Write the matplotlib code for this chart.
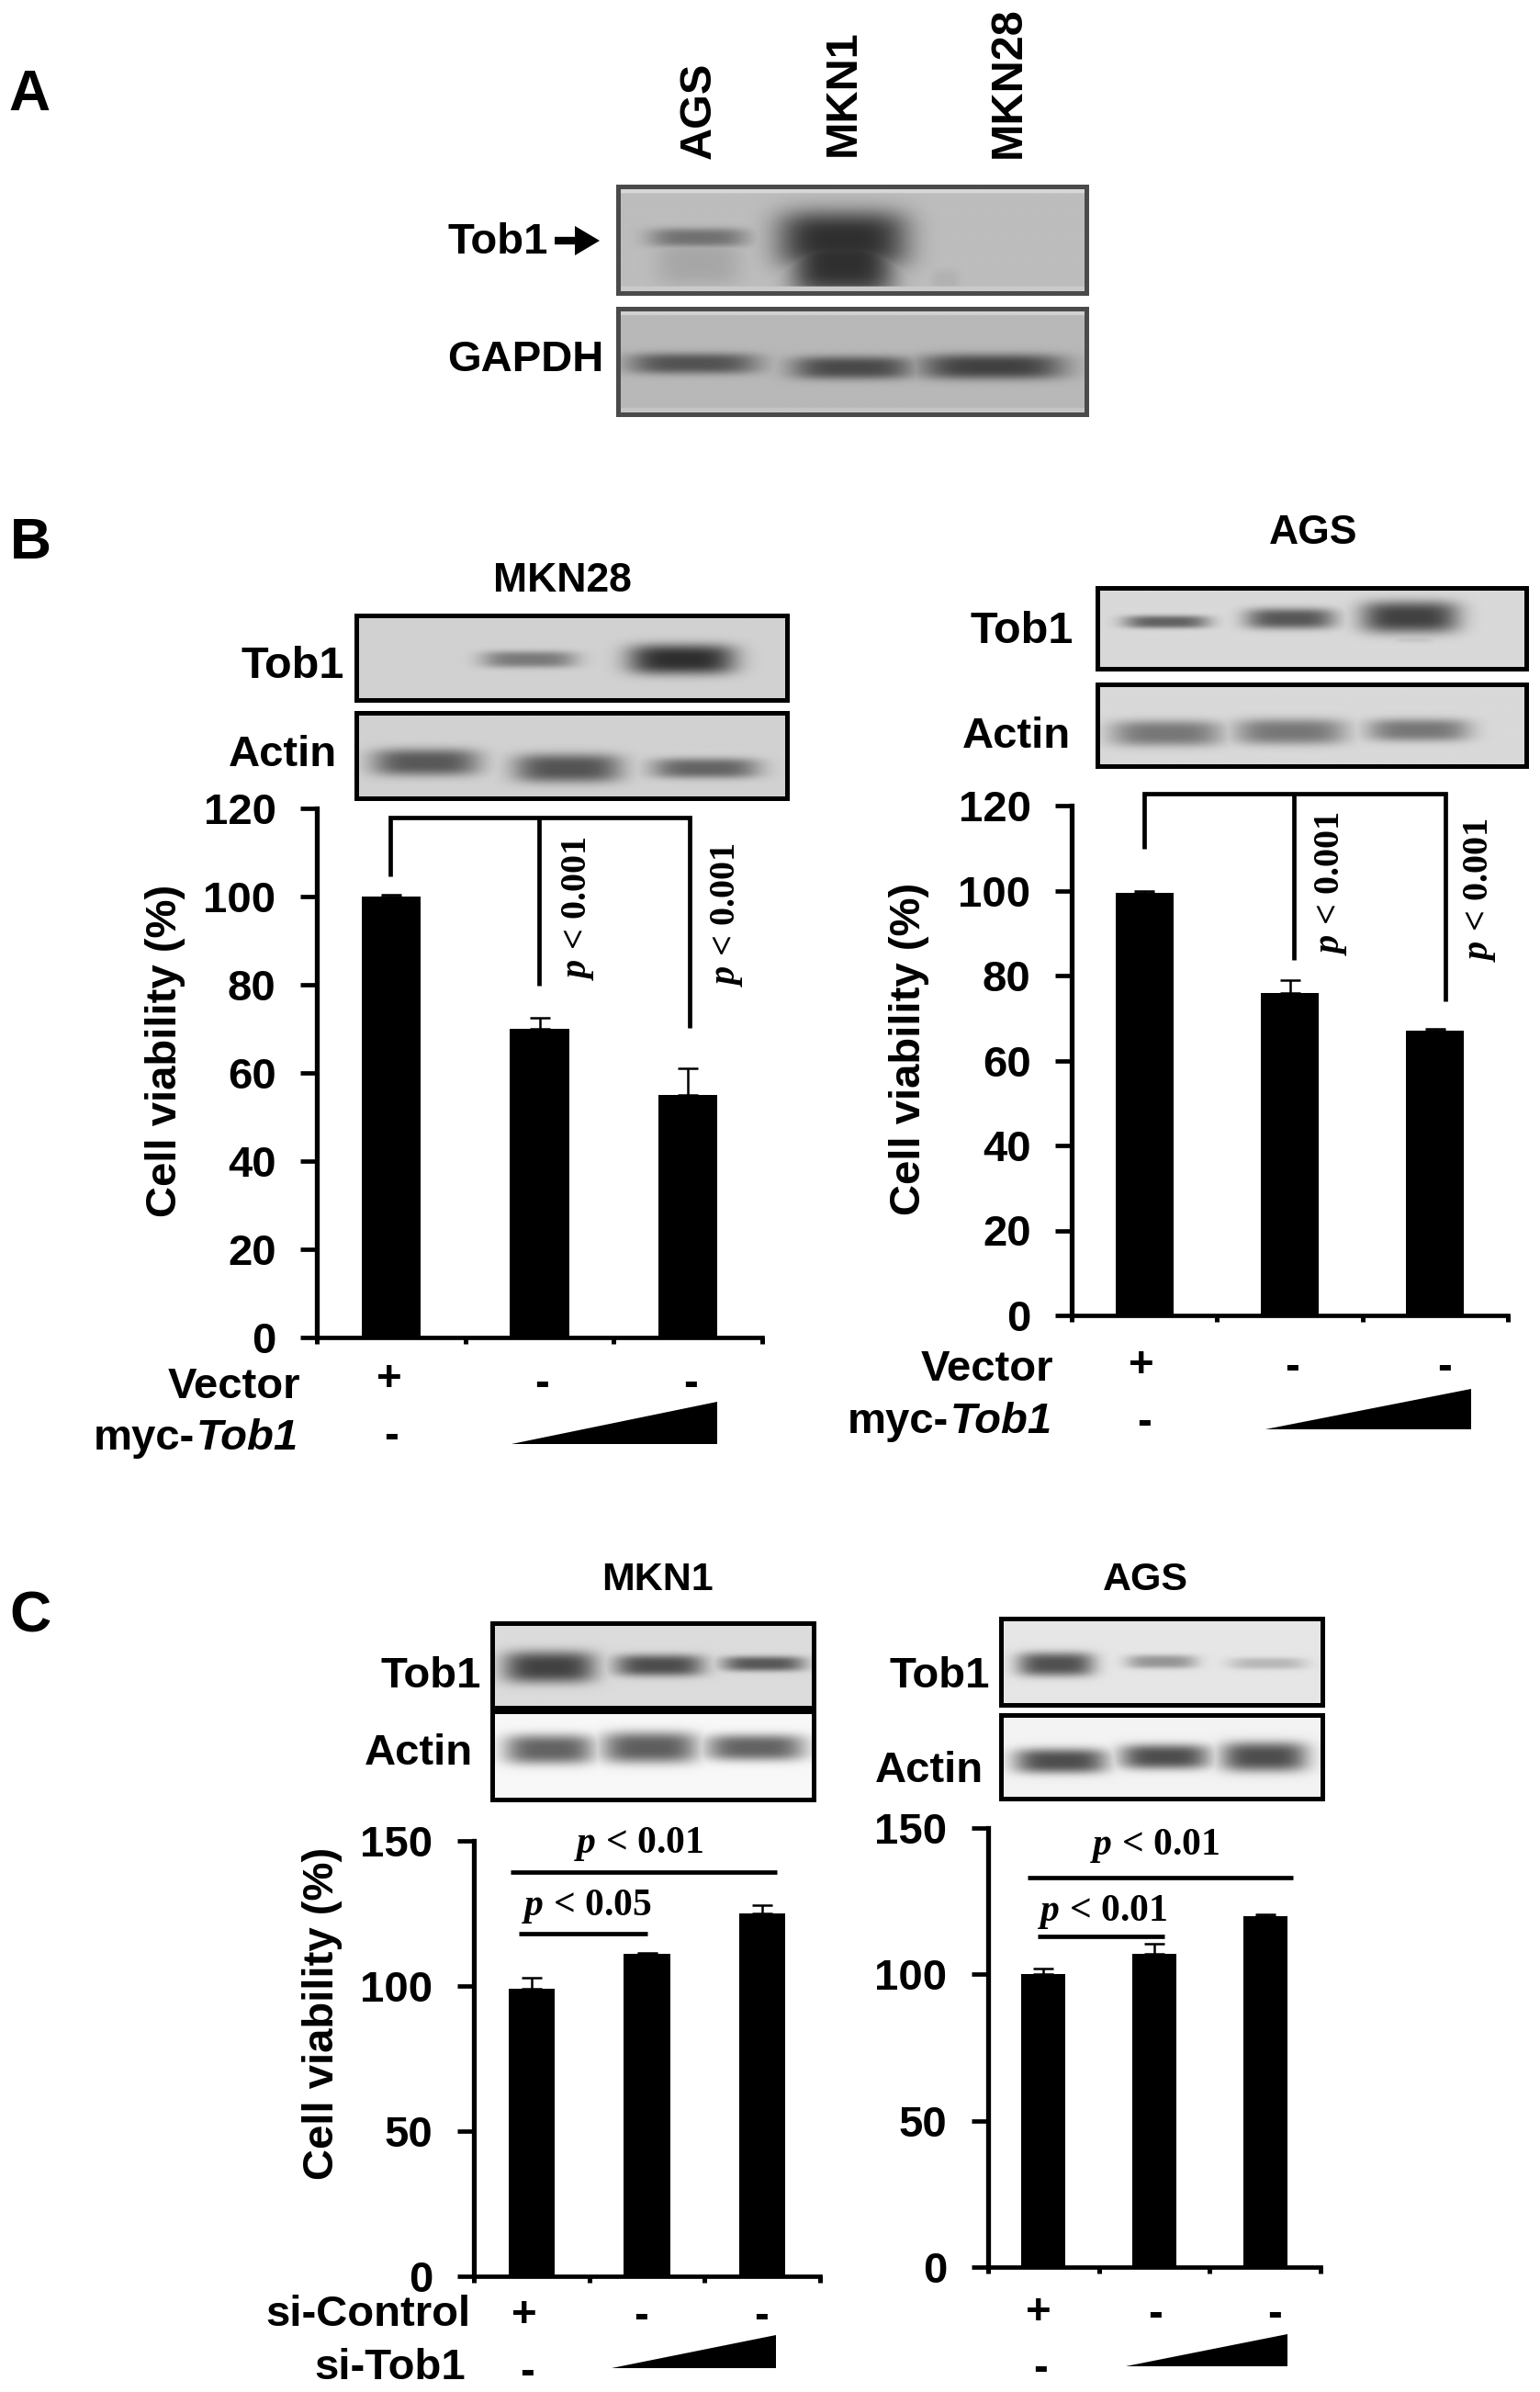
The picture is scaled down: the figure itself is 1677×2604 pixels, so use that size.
#!/usr/bin/env python
import numpy as np
import matplotlib as m
m.use("Agg")
import matplotlib.pyplot as plt

W, H = 1677, 2604
SANS = "Liberation Sans"
SERIF = "Liberation Serif"
plt.rcParams['font.family'] = [SANS, 'DejaVu Sans']
plt.rcParams['mathtext.fontset'] = 'custom'
plt.rcParams['mathtext.it'] = SERIF + ':italic:bold'
plt.rcParams['mathtext.rm'] = SERIF + ':bold'

# bar data
bar_x = [0.5, 1.5, 2.5]
mkn28_viability = [100, 70, 55]
mkn28_err = [0.5, 2.5, 6]
ags_b_viability = [99.5, 76, 67]
ags_b_err = [0.5, 3, 0.5]
mkn1_viability = [99, 111, 125]
mkn1_err = [4, 0.5, 3]
ags_c_viability = [100, 107, 120]
ags_c_err = [2, 3.5, 0.5]
ticks_b = [0, 20, 40, 60, 80, 100, 120]
ticks_c = [0, 50, 100, 150]

# blot bands: (centre x, centre y, half width, half height, darkness), as fractions of the blot
tob1_a = [(0.17, 0.48, 0.105, 0.09, 0.4), (0.17, 0.72, 0.09, 0.22, 0.12),
          (0.48, 0.5, 0.14, 0.28, 0.75), (0.48, 0.72, 0.11, 0.34, 0.75),
          (0.7, 0.88, 0.03, 0.1, 0.06)]
gapdh_a = [(0.16, 0.52, 0.14, 0.1, 0.55), (0.50, 0.56, 0.13, 0.11, 0.6), (0.80, 0.55, 0.155, 0.12, 0.65)]
tob1_b1 = [(0.40, 0.52, 0.11, 0.1, 0.42), (0.755, 0.52, 0.125, 0.18, 0.78)]
actin_b1 = [(0.16, 0.58, 0.125, 0.16, 0.58), (0.49, 0.65, 0.125, 0.17, 0.6), (0.81, 0.65, 0.125, 0.12, 0.52)]
tob1_b2 = [(0.16, 0.42, 0.10, 0.08, 0.55), (0.45, 0.38, 0.105, 0.13, 0.6),
           (0.73, 0.36, 0.115, 0.2, 0.7), (0.74, 0.62, 0.05, 0.06, 0.1)]
actin_b2 = [(0.16, 0.6, 0.13, 0.16, 0.45), (0.45, 0.58, 0.13, 0.16, 0.45), (0.75, 0.56, 0.12, 0.14, 0.45)]
tob1_c1 = [(0.177, 0.52, 0.145, 0.19, 0.7), (0.52, 0.5, 0.14, 0.13, 0.65), (0.845, 0.48, 0.13, 0.09, 0.6)]
actin_c1 = [(0.177, 0.43, 0.14, 0.17, 0.6), (0.49, 0.41, 0.15, 0.18, 0.62), (0.82, 0.41, 0.155, 0.15, 0.6)]
tob1_c2 = [(0.17, 0.53, 0.12, 0.14, 0.65), (0.50, 0.5, 0.11, 0.08, 0.35), (0.83, 0.52, 0.12, 0.07, 0.2)]
actin_c2 = [(0.185, 0.55, 0.145, 0.15, 0.68), (0.51, 0.5, 0.14, 0.15, 0.68), (0.82, 0.5, 0.135, 0.18, 0.68)]


def px_axes(x0, y0, x1, y1, **kw):
    return fig.add_axes([x0 / W, 1 - y1 / H, (x1 - x0) / W, (y1 - y0) / H], **kw)


def blot(box, bands, bg=0.82, edge='black', lw=3.6, strip=False):
    x0, y0, x1, y1 = box
    ax = px_axes(x0 + 3, y0 + 2, x1 - 3, y1 - 2)
    yy, xx = np.mgrid[0:1:160j, 0:1:300j]
    img = np.full(xx.shape, bg)
    for cx, cy, hw, hh, dark in bands:
        band = np.exp(-((xx - cx) / hw) ** 4 - np.abs((yy - cy) / hh) ** 3)
        img = np.minimum(img, bg - dark * bg * band)
    if strip:
        img[:10] = bg + 0.1
        img[-10:] = bg + 0.05
    ax.imshow(np.clip(img, 0, 1), cmap='gray', vmin=0, vmax=1, aspect='auto', extent=[0, 1, 1, 0])
    ax.set_xticks([])
    ax.set_yticks([])
    for s in ax.spines.values():
        s.set_linewidth(lw)
        s.set_color(edge)
    return ax


def bars(box, values, err, ticks):
    ax = px_axes(*box)
    ax.bar(bar_x, values, width=0.4, color='black')
    ax.errorbar(bar_x, values, yerr=[[0] * 3, err], fmt='none', ecolor='black',
                elinewidth=1.8, capsize=8, capthick=1.8)
    ax.set_xlim(0, 3)
    ax.set_ylim(0, ticks[-1])
    ax.set_xticks([0, 1, 2, 3])
    ax.set_xticklabels([])
    ax.set_yticks(ticks)
    ax.tick_params(axis='y', length=13, width=3.4, pad=19, labelsize=34)
    ax.tick_params(axis='x', length=5, width=3.6)
    for lab in ax.get_yticklabels():
        lab.set_fontweight('bold')
    ax.spines['top'].set_visible(False)
    ax.spines['right'].set_visible(False)
    ax.spines['left'].set_linewidth(3.8)
    ax.spines['bottom'].set_linewidth(3.4)
    return ax


def label(x, y, s, size=34, ha='center', **kw):
    ov.text(x, y, s, fontsize=size, ha=ha, va='center', fontweight='bold', **kw)


def pval(x, y, s, rotation=0, size=30):
    ov.text(x, y, s, fontsize=size, ha='center', va='center', rotation=rotation,
            family=SERIF, fontweight='bold')


def wedge(x0, x1, y0, y1):
    ov.fill([x0, x1, x1], [y1, y0, y1], color='black', lw=0)


def line(xs, ys, lw=3.4):
    ov.plot(xs, ys, color='black', lw=lw, solid_capstyle='butt', solid_joinstyle='miter')


def myc_tob1(right, y):
    label(right, y, 'Tob1', ha='right', style='italic')
    label(right - 113, y, 'myc-', ha='right')


fig = plt.figure(figsize=(W / 100, H / 100), dpi=100, facecolor='white')

# panel A
blot((670, 201, 1186, 321), tob1_a, bg=0.74, edge='#4a4a4a', strip=True)
blot((670, 334, 1186, 453), gapdh_a, bg=0.72, edge='#4a4a4a', strip=True)

# panel B
blot((385, 668, 860, 764), tob1_b1)
blot((385, 774, 860, 871), actin_b1)
blot((1192, 638, 1665, 730), tob1_b2, bg=0.85)
blot((1192, 743, 1665, 836), actin_b2, bg=0.85)
ax_b1 = bars((345, 880, 830, 1456), mkn28_viability, mkn28_err, ticks_b)
ax_b2 = bars((1167, 877, 1642, 1432), ags_b_viability, ags_b_err, ticks_b)

# panel C
blot((533, 1765, 889, 1861), tob1_c1, bg=0.86)
blot((533, 1861, 889, 1961), actin_c1, bg=0.97)
blot((1087, 1760, 1443, 1858), tob1_c2, bg=0.9)
blot((1087, 1865, 1443, 1960), actin_c2, bg=0.95)
ax_c1 = bars((516, 2004, 893, 2478), mkn1_viability, mkn1_err, ticks_c)
ax_c2 = bars((1076, 1990, 1438, 2468), ags_c_viability, ags_c_err, ticks_c)

# overlay in picture pixels for labels, brackets and wedges
ov = fig.add_axes([0, 0, 1, 1], facecolor='none')
ov.set_xlim(0, W)
ov.set_ylim(H, 0)
ov.axis('off')

label(32, 104, 'A', size=45)
label(33, 592, 'B', size=45)
label(33, 1760, 'C', size=45)

for x, y0, s in [(761, 173, 'AGS'), (918, 170, 'MKN1'), (1098, 172, 'MKN28')]:
    ov.text(x, y0, s, fontsize=35, rotation=90, ha='center', va='bottom', fontweight='bold')
label(597, 264, 'Tob1', ha='right')
line([604, 632], [262, 262], lw=6)
ov.fill([626, 653, 626], [246, 262, 278], color='black', lw=0)
label(658, 392, 'GAPDH', ha='right')

# B left
label(612, 632, 'MKN28', size=32)
label(375, 725, 'Tob1', size=35, ha='right')
label(367, 822, 'Actin', ha='right')
label(327, 1510, 'Vector', ha='right')
myc_tob1(325, 1566)
for x, y, s in [(424, 1502, '+'), (426, 1564, '-'), (590, 1507, '-'), (752, 1507, '-')]:
    label(x, y, s)
wedge(557, 781, 1526, 1572)
label(180, 1144, 'Cell viability (%)', rotation=90)
line([425, 425, 751, 751], [954, 890, 890, 1119])
line([587, 587], [890, 1073])
pval(630, 989, r'$\mathit{p}$ < 0.001', 90, size=29)
pval(792, 996, r'$\mathit{p}$ < 0.001', 90, size=29)

# B right
label(1430, 581, 'AGS', size=32)
label(1169, 688, 'Tob1', size=35, ha='right')
label(1166, 802, 'Actin', ha='right')
label(1147, 1491, 'Vector', ha='right')
myc_tob1(1146, 1548)
for x, y, s in [(1243, 1487, '+'), (1246, 1549, '-'), (1407, 1489, '-'), (1573, 1489, '-')]:
    label(x, y, s)
wedge(1378, 1602, 1512, 1556)
label(990, 1142, 'Cell viability (%)', rotation=90)
line([1246, 1246, 1574, 1574], [924, 864, 864, 1090])
line([1409, 1409], [864, 1045])
pval(1450, 962, r'$\mathit{p}$ < 0.001', 90, size=29)
pval(1612, 969, r'$\mathit{p}$ < 0.001', 90, size=29)

# C left
label(716, 1720, 'MKN1', size=31)
label(524, 1825, 'Tob1', ha='right')
label(515, 1909, 'Actin', ha='right')
label(512, 2520, 'si-Control', ha='right')
label(507, 2578, 'si-Tob1', ha='right')
for x, y, s in [(571, 2521, '+'), (574, 2583, '-'), (698, 2522, '-'), (829, 2522, '-')]:
    label(x, y, s)
wedge(666, 845, 2542, 2578)
label(351, 2192, 'Cell viability (%)', rotation=90)
line([556, 846], [2038, 2038])
line([565, 705], [2105, 2105])
pval(696, 2007, r'$\mathit{p}$ < 0.01')
pval(639, 2076, r'$\mathit{p}$ < 0.05')

# C right
label(1247, 1720, 'AGS', size=31)
label(1078, 1825, 'Tob1', ha='right')
label(1071, 1928, 'Actin', ha='right')
for x, y, s in [(1131, 2518, '+'), (1133, 2579, '-'), (1258, 2520, '-'), (1388, 2520, '-')]:
    label(x, y, s)
wedge(1226, 1402, 2541, 2576)
line([1119, 1408], [2044, 2044])
line([1130, 1268], [2108, 2108])
pval(1258, 2009, r'$\mathit{p}$ < 0.01')
pval(1201, 2082, r'$\mathit{p}$ < 0.01')

plt.savefig("out.png", dpi=100)
